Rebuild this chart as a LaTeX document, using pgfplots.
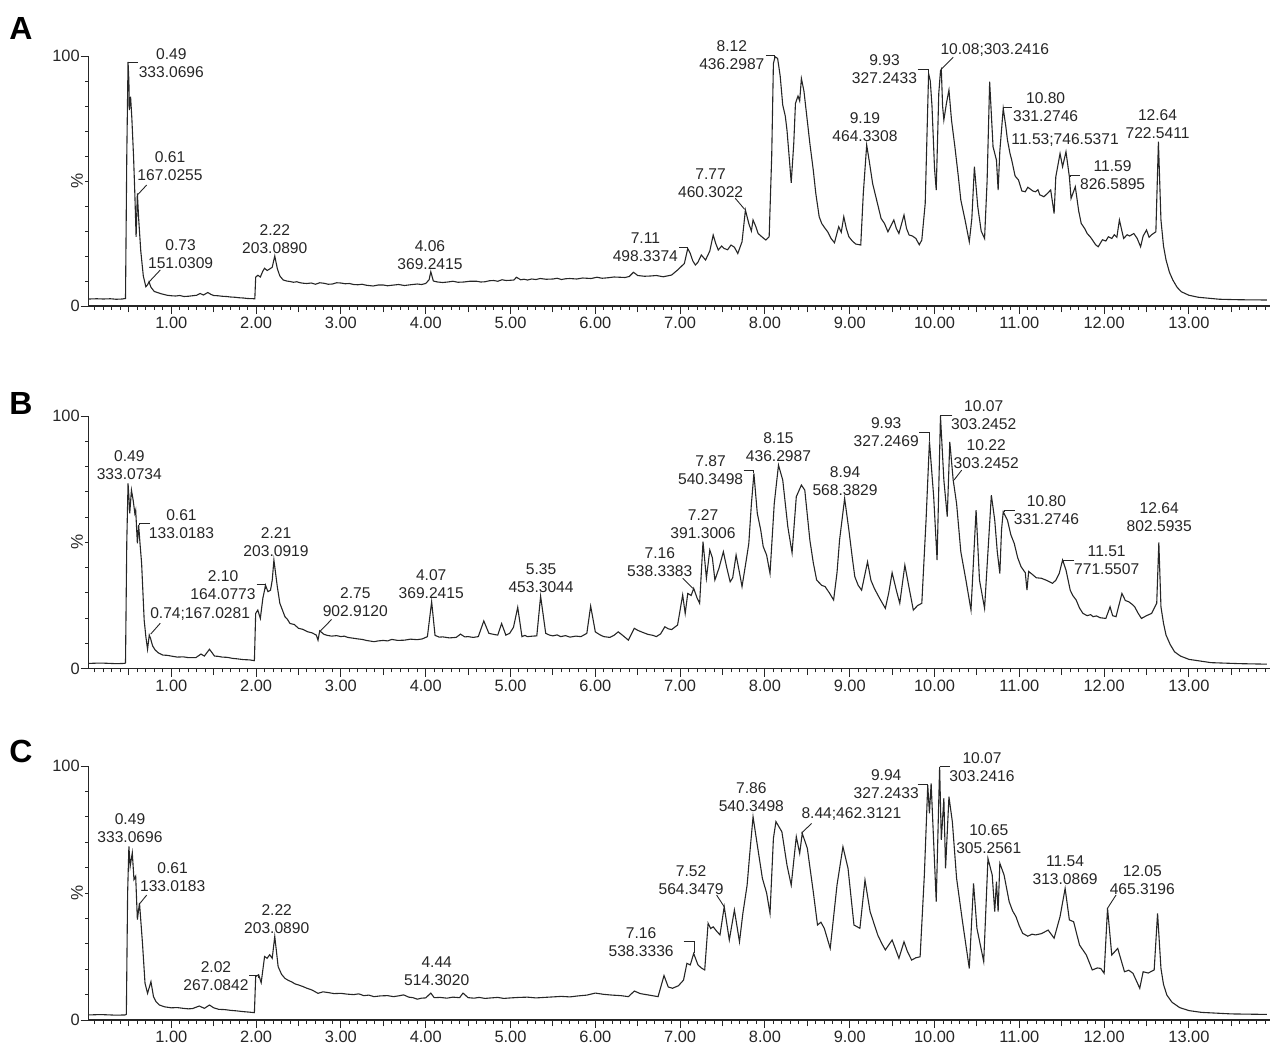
\documentclass[border=0pt]{standalone}
\usepackage{pgfplots}
\pgfplotsset{compat=1.18}
\usepackage{fontspec}
\setmainfont{Liberation Sans}
\definecolor{ink}{gray}{0.15}
\pgfplotsset{
 chrom/.style={
  scale only axis, width=590.4pt, xmin=0.026, xmax=13.95, ymin=0, ymax=100,
  axis x line*=bottom, axis y line*=left,
  axis line style={ink, line width=0.6pt, -},
  xtick={1,2,3,4,5,6,7,8,9,10,11,12,13},
  xticklabels={1.00,2.00,3.00,4.00,5.00,6.00,7.00,8.00,9.00,10.00,11.00,12.00,13.00},
  minor xtick={0.1,0.2,...,13.92},
  extra x ticks={0.5,1.5,2.5,3.5,4.5,5.5,6.5,7.5,8.5,9.5,10.5,11.5,12.5,13.5},
  extra x tick labels={},
  extra x tick style={major tick length=3.2pt},
  ytick={0,100}, yticklabels={0,100},
  minor ytick={10,20,30,40,50,60,70,80,90},
  tick align=outside, major tick length=4pt, minor tick length=1.8pt,
  tick style={ink, line width=0.5pt},
  ticklabel style={font=\fontsize{8.2}{9}\selectfont, text=ink},
  xticklabel style={yshift=2pt},
  yticklabel style={xshift=3pt},
  clip=false,
 },
 trace/.style={ink, line width=0.55pt, mark=none, sharp plot},
}
\tikzset{
 lab/.style={font=\fontsize{7.8}{9}\selectfont, align=center, inner sep=0pt, text=ink},
 lead/.style={ink, line width=0.45pt},
}
\newcommand{\lab}[3]{\node[lab] at (axis cs:#1,#2) {#3};}
\newcommand{\pct}{\node[rotate=90, font=\fontsize{8.5}{9}\selectfont, text=ink] at ([xshift=-5.85pt]rel axis cs:0,0.5) {\%};}

\begin{document}
\begin{tikzpicture}
\path[use as bounding box] (0,0) rectangle (635pt,-522.5pt);
\node[font=\bfseries\fontsize{16}{16}\selectfont] at (10.5pt,-14pt) {A};
\node[font=\bfseries\fontsize{16}{16}\selectfont] at (10.5pt,-201.5pt) {B};
\node[font=\bfseries\fontsize{16}{16}\selectfont] at (10.5pt,-375.5pt) {C};

% ---------------- A ----------------
\begin{axis}[chrom, at={(44.35pt,-153pt)}, anchor=south west, height=125pt]
\addplot[trace] coordinates {
(0.03,2.8) (0.12,2.9) (0.2,2.8) (0.28,2.9) (0.35,2.7) (0.42,2.8) (0.46,3.0) (0.475,60) (0.49,97.6) (0.50,90) (0.505,78.4) (0.52,83.7) (0.535,75) (0.555,59.7) (0.57,45) (0.585,27.7) (0.60,45) (0.615,35) (0.64,22) (0.67,12) (0.70,7.7) (0.72,8.5) (0.737,9.7) (0.76,7.5) (0.8,5.8) (0.87,5.0) (0.95,4.3) (1.0,4.1) (1.05,4.0) (1.1,4.2) (1.15,3.8) (1.2,3.9) (1.25,4.1) (1.3,4.3) (1.34,5.0) (1.38,4.4) (1.43,5.4) (1.47,4.6) (1.5,4.2) (1.55,4.1) (1.6,3.9) (1.65,3.8) (1.7,3.6) (1.75,3.5) (1.8,3.3) (1.85,3.2) (1.9,3.0) (1.985,2.9) (1.995,11.5) (2.02,12.3) (2.05,11.6) (2.08,14) (2.10,15.1) (2.13,14.2) (2.16,14.8) (2.19,15.5) (2.22,20) (2.25,15) (2.28,12) (2.32,10.4) (2.36,10.0) (2.4,9.8) (2.44,9.5) (2.48,9.7) (2.52,9.3) (2.56,9.1) (2.6,9.0) (2.65,9.2) (2.7,8.7) (2.75,9.3) (2.8,9.1) (2.85,8.7) (2.9,8.8) (2.95,9.3) (3.0,9.2) (3.05,8.9) (3.1,9.0) (3.15,8.6) (3.2,8.5) (3.25,8.7) (3.3,8.3) (3.38,8.0) (3.44,8.4) (3.5,8.4) (3.55,8.1) (3.6,8.3) (3.68,8.6) (3.75,8.2) (3.82,8.5) (3.9,8.8) (3.95,8.6) (4.0,9.0) (4.04,10.5) (4.06,13.7) (4.09,10) (4.14,9.6) (4.2,9.4) (4.26,9.6) (4.32,9.9) (4.38,9.5) (4.45,9.6) (4.52,9.9) (4.6,9.9) (4.65,9.6) (4.7,9.7) (4.75,10.1) (4.8,10.2) (4.85,9.9) (4.9,10.5) (4.95,10.2) (5.0,10.3) (5.04,10.4) (5.07,11.5) (5.12,10.5) (5.16,10.7) (5.2,10.4) (5.25,10.8) (5.3,10.6) (5.35,11.0) (5.42,10.7) (5.5,10.8) (5.55,11.1) (5.6,10.6) (5.65,10.9) (5.7,11.0) (5.78,10.8) (5.85,11.2) (5.95,11.0) (6.02,11.5) (6.08,11.1) (6.15,11.3) (6.22,11.6) (6.29,11.5) (6.35,11.4) (6.4,11.8) (6.45,13.5) (6.5,12.2) (6.58,11.9) (6.65,12.0) (6.72,12.2) (6.8,11.7) (6.86,12.1) (6.9,12.4) (6.97,14.4) (7.05,17) (7.09,23) (7.12,21) (7.15,18) (7.18,16.4) (7.21,17.5) (7.25,20.4) (7.30,18.4) (7.35,22) (7.39,28.4) (7.42,25) (7.45,22.4) (7.49,24) (7.52,23) (7.56,22.5) (7.6,24.4) (7.64,23.5) (7.68,21) (7.73,25.7) (7.77,38.4) (7.81,33) (7.84,30) (7.86,34.4) (7.89,32) (7.92,29) (7.97,27.5) (8.01,26.4) (8.05,27.7) (8.08,60) (8.10,97) (8.12,99.7) (8.15,99) (8.18,92) (8.21,80.4) (8.24,76) (8.26,70.4) (8.29,58) (8.31,49.3) (8.34,65) (8.36,81) (8.39,84) (8.41,82) (8.43,91) (8.46,86) (8.49,77) (8.53,65) (8.57,54.4) (8.6,45) (8.64,35.7) (8.67,33) (8.70,31.5) (8.74,29.7) (8.78,27) (8.82,25.3) (8.87,31.7) (8.90,29.5) (8.93,35.7) (8.96,31) (8.99,27.7) (9.03,26) (9.07,24.8) (9.13,24.4) (9.16,45) (9.20,64.4) (9.23,58) (9.27,49) (9.32,42) (9.37,35) (9.41,33) (9.45,29.7) (9.52,34.4) (9.55,31) (9.58,29) (9.64,36.4) (9.67,31) (9.70,28.4) (9.74,28) (9.78,27) (9.82,24.5) (9.85,26.4) (9.89,41) (9.93,93) (9.95,90) (9.97,80) (10.0,55) (10.02,46.4) (10.05,85) (10.07,94) (10.08,94.7) (10.095,80) (10.11,74.4) (10.14,81) (10.17,86.4) (10.2,74.4) (10.24,63.7) (10.28,52) (10.31,42.4) (10.36,34.4) (10.41,25.7) (10.44,35) (10.47,55.7) (10.51,39.7) (10.55,30) (10.59,27) (10.62,50) (10.65,89.7) (10.69,63.7) (10.73,58.4) (10.75,46.4) (10.77,62) (10.79,70.4) (10.81,79) (10.84,72) (10.86,66.4) (10.89,61) (10.91,58.4) (10.95,52) (10.99,50.4) (11.03,46) (11.07,45.7) (11.1,47.5) (11.12,47) (11.16,46) (11.19,45.7) (11.22,46.5) (11.24,44.5) (11.29,43.7) (11.33,45) (11.37,46.4) (11.41,37) (11.43,51.7) (11.48,61) (11.51,55.7) (11.55,61.7) (11.59,51.7) (11.61,43) (11.66,47.7) (11.70,38) (11.73,33) (11.77,31) (11.8,29) (11.84,27.5) (11.87,26) (11.9,24.5) (11.93,23.7) (11.98,26.5) (12.02,26) (12.05,27.7) (12.09,27) (12.12,28.5) (12.15,27.5) (12.18,34.4) (12.23,27) (12.27,28.5) (12.3,28) (12.35,29) (12.39,27) (12.43,23.7) (12.46,28) (12.5,30.4) (12.53,27.5) (12.56,28.5) (12.61,29.7) (12.64,65.7) (12.67,34.4) (12.7,24) (12.73,18.4) (12.77,13.5) (12.81,10.4) (12.86,7.5) (12.91,5.7) (13.0,4.3) (13.11,3.5) (13.36,2.7) (13.6,2.5) (13.92,2.4)
};
\pct
\lab{1.00}{97.2}{0.49\\333.0696}
\draw[lead] (axis cs:0.61,97.6) -- (axis cs:0.49,97.6);
\lab{0.985}{55.8}{0.61\\167.0255}
\draw[lead] (axis cs:0.71,48.4) -- (axis cs:0.60,44.4);
\lab{1.11}{20.8}{0.73\\151.0309}
\draw[lead] (axis cs:0.87,14.4) -- (axis cs:0.74,9.7);
\lab{2.22}{26.8}{2.22\\203.0890}
\lab{4.05}{20.4}{4.06\\369.2415}
\lab{6.59}{23.4}{7.11\\498.3374}
\draw[lead] (axis cs:6.99,23.5) -| (axis cs:7.09,22.5);
\lab{7.36}{49.3}{7.77\\460.3022}
\draw[lead] (axis cs:7.65,43.1) -- (axis cs:7.76,38.7);
\lab{7.61}{100.4}{8.12\\436.2987}
\draw[lead] (axis cs:8.01,100.4) -| (axis cs:8.11,99.2);
\lab{9.18}{71.7}{9.19\\464.3308}
\lab{9.41}{94.8}{9.93\\327.2433}
\draw[lead] (axis cs:9.80,94.8) -| (axis cs:9.93,93);
\lab{10.71}{102.4}{10.08;303.2416}
\draw[lead] (axis cs:10.22,99.5) -- (axis cs:10.08,94.7);
\lab{11.31}{79.6}{10.80\\331.2746}
\draw[lead] (axis cs:10.91,79.6) -| (axis cs:10.81,79);
\lab{11.54}{66.4}{11.53;746.5371}
\lab{12.10}{52.3}{11.59\\826.5895}
\draw[lead] (axis cs:11.71,52.3) -| (axis cs:11.60,51.7);
\lab{12.63}{72.9}{12.64\\722.5411}
\end{axis}

% ---------------- B ----------------
\begin{axis}[chrom, at={(44.35pt,-334.35pt)}, anchor=south west, height=126.3pt]
\addplot[trace] coordinates {
(0.03,2.1) (0.12,2.2) (0.2,2.2) (0.28,2.1) (0.35,2.0) (0.45,2.1) (0.46,2.3) (0.475,50) (0.49,73.4) (0.50,68) (0.51,61.5) (0.53,70.7) (0.55,66.8) (0.57,61.5) (0.58,62.8) (0.60,49.6) (0.615,56.9) (0.63,50) (0.65,41.7) (0.68,19.3) (0.70,12.7) (0.72,7.7) (0.74,13.3) (0.755,12) (0.78,9) (0.81,7.4) (0.85,6.2) (0.9,5.4) (0.95,5.3) (1.0,5.0) (1.07,4.6) (1.14,4.7) (1.2,4.4) (1.29,4.4) (1.35,5.8) (1.39,5.0) (1.45,7.7) (1.51,5.0) (1.55,4.9) (1.6,4.6) (1.66,4.5) (1.72,4.1) (1.78,3.9) (1.85,3.6) (1.92,3.5) (1.98,3.2) (1.995,21.9) (2.02,23.2) (2.05,19.9) (2.08,28) (2.10,31.1) (2.11,33.1) (2.14,30.5) (2.17,31.1) (2.19,35) (2.21,43) (2.25,32.5) (2.28,25.9) (2.34,20.6) (2.37,19.5) (2.40,17.9) (2.45,17.5) (2.50,16) (2.55,15.6) (2.61,14.6) (2.66,14.2) (2.71,13.3) (2.73,11.3) (2.75,15) (2.8,13.6) (2.84,13.2) (2.89,12.9) (2.95,13.1) (3.0,12.7) (3.04,12.9) (3.08,12.4) (3.14,12.1) (3.2,11.8) (3.25,11.6) (3.3,11.2) (3.39,10.7) (3.44,11.0) (3.5,11.2) (3.55,11.0) (3.6,11.6) (3.67,11.2) (3.75,11.3) (3.82,11.7) (3.9,11.5) (3.96,11.8) (4.02,12.7) (4.07,26.5) (4.11,13.2) (4.16,12.5) (4.2,12.6) (4.28,12.2) (4.36,12.4) (4.41,13.7) (4.46,12.6) (4.5,12.7) (4.56,12.4) (4.62,12.7) (4.685,18.9) (4.745,14) (4.8,13.6) (4.85,13.3) (4.895,17.9) (4.945,13.3) (4.99,14) (5.035,16.4) (5.085,24.3) (5.135,12.7) (5.17,13.2) (5.2,12.7) (5.26,12.9) (5.31,13) (5.355,28.7) (5.415,14) (5.46,13.3) (5.5,13) (5.55,13.4) (5.59,12.7) (5.65,13.1) (5.7,12.5) (5.77,12.9) (5.83,12.7) (5.9,14) (5.945,24.8) (6.0,14.6) (6.05,13.5) (6.1,12.7) (6.17,12.4) (6.22,13.2) (6.27,14.6) (6.33,13) (6.39,11.3) (6.46,16) (6.5,15.2) (6.55,14.5) (6.62,13.6) (6.68,13.2) (6.72,12.7) (6.77,13.8) (6.82,16.6) (6.86,15.8) (6.9,15.5) (6.97,17.3) (7.03,29.2) (7.06,21.9) (7.09,29.8) (7.13,29) (7.16,31.8) (7.2,28) (7.23,25.9) (7.27,50.3) (7.31,35.8) (7.35,47) (7.38,44) (7.41,35.1) (7.46,40) (7.51,46.3) (7.55,40) (7.59,34.4) (7.62,36) (7.66,45) (7.7,38) (7.73,32.5) (7.78,43) (7.81,49.6) (7.84,65) (7.87,77.3) (7.91,61.5) (7.95,55) (7.98,48.3) (8.02,45) (8.06,37.7) (8.11,65.4) (8.16,80.6) (8.21,74.7) (8.27,56.2) (8.32,45.9) (8.37,68.1) (8.43,72.7) (8.47,70.7) (8.53,50.9) (8.57,42) (8.61,35.1) (8.67,33) (8.71,32.5) (8.76,30) (8.81,27.2) (8.85,38) (8.88,50.9) (8.94,67.4) (8.99,54.9) (9.03,44) (9.06,36.4) (9.1,33) (9.14,31.1) (9.21,42.3) (9.25,35) (9.29,31.8) (9.35,28) (9.42,23.9) (9.46,30) (9.5,38) (9.55,31) (9.59,25.9) (9.65,41) (9.7,32) (9.75,23.2) (9.8,25) (9.85,25.9) (9.90,58.8) (9.94,90) (9.99,68.1) (10.03,43) (10.07,100) (10.11,74.7) (10.15,60.2) (10.18,89.8) (10.22,74.7) (10.26,65.4) (10.31,46.3) (10.37,35.1) (10.43,23.2) (10.49,62.8) (10.53,35.1) (10.59,23.9) (10.67,68.7) (10.71,58.8) (10.74,46.3) (10.77,37.7) (10.79,55) (10.81,62.1) (10.86,58.8) (10.9,53) (10.94,49.6) (10.98,44) (11.02,40.4) (11.07,38) (11.09,31.1) (11.11,38.5) (11.14,37.7) (11.2,36) (11.26,35.8) (11.32,35) (11.39,33.8) (11.43,35) (11.47,37.7) (11.51,43) (11.55,39.1) (11.60,31.1) (11.63,29) (11.67,27.2) (11.71,24) (11.75,21.9) (11.8,21) (11.84,21.4) (11.87,20.6) (11.91,20.9) (11.95,20.2) (12.02,19.9) (12.07,24.5) (12.1,21) (12.14,20.6) (12.21,29.8) (12.25,27) (12.29,26.5) (12.33,25.5) (12.36,24.5) (12.4,22) (12.44,19.9) (12.5,21) (12.56,21.9) (12.62,25.9) (12.645,50) (12.67,24.5) (12.7,18) (12.73,13.3) (12.78,9.5) (12.83,6.7) (12.9,5.0) (13.0,3.7) (13.26,2.4) (13.6,2.0) (13.92,1.8)
};
\pct
\lab{0.505}{80.6}{0.49\\333.0734}
\lab{1.12}{57.4}{0.61\\133.0183}
\draw[lead] (axis cs:0.75,57.4) -| (axis cs:0.62,56.9);
\lab{1.34}{21.5}{0.74;167.0281}
\draw[lead] (axis cs:0.87,18) -- (axis cs:0.757,13.7);
\lab{1.61}{33.1}{2.10\\164.0773}
\draw[lead] (axis cs:2.007,33.4) -| (axis cs:2.11,31.5);
\lab{2.235}{50.1}{2.21\\203.0919}
\lab{3.17}{26.5}{2.75\\902.9120}
\draw[lead] (axis cs:2.89,19.5) -- (axis cs:2.76,15);
\lab{4.065}{33.6}{4.07\\369.2415}
\lab{5.36}{35.9}{5.35\\453.3044}
\lab{6.76}{42.2}{7.16\\538.3383}
\draw[lead] (axis cs:7.03,35.8) -- (axis cs:7.15,31.8);
\lab{7.27}{57.3}{7.27\\391.3006}
\lab{7.36}{78.5}{7.87\\540.3498}
\draw[lead] (axis cs:7.75,78.4) -| (axis cs:7.87,77.3);
\lab{8.16}{87.7}{8.15\\436.2987}
\lab{8.945}{74.3}{8.94\\568.3829}
\lab{9.43}{93.6}{9.93\\327.2469}
\draw[lead] (axis cs:9.82,93.7) -| (axis cs:9.94,90);
\lab{10.58}{100.4}{10.07\\303.2452}
\draw[lead] (axis cs:10.21,100.4) -| (axis cs:10.07,99.6);
\lab{10.61}{85}{10.22\\303.2452}
\draw[lead] (axis cs:10.32,78.6) -- (axis cs:10.23,74.7);
\lab{11.32}{62.8}{10.80\\331.2746}
\draw[lead] (axis cs:10.945,62.8) -| (axis cs:10.82,62.1);
\lab{12.03}{43}{11.51\\771.5507}
\draw[lead] (axis cs:11.65,43) -| (axis cs:11.52,42.3);
\lab{12.65}{60}{12.64\\802.5935}
\end{axis}

% ---------------- C ----------------
\begin{axis}[chrom, at={(44.35pt,-510pt)}, anchor=south west, height=127pt]
\addplot[trace] coordinates {
(0.03,2.0) (0.12,2.1) (0.2,2.1) (0.28,2.0) (0.35,1.9) (0.46,2.0) (0.47,2.3) (0.485,50) (0.50,68.4) (0.515,60.5) (0.54,65.8) (0.56,55.3) (0.58,56.6) (0.60,39.5) (0.625,46.1) (0.66,30.3) (0.69,14.5) (0.72,10.5) (0.76,15.1) (0.79,9.2) (0.82,7.2) (0.86,5.9) (0.92,5.2) (1.0,4.8) (1.07,4.9) (1.14,4.6) (1.2,4.4) (1.25,4.5) (1.33,5.5) (1.39,4.6) (1.45,5.9) (1.5,4.8) (1.56,4.2) (1.63,4.1) (1.7,3.8) (1.77,3.6) (1.85,3.3) (1.92,3.1) (1.98,2.9) (1.995,17.1) (2.03,17.8) (2.06,14.7) (2.10,25) (2.13,24.3) (2.16,25.7) (2.19,24.3) (2.22,32.9) (2.26,21) (2.3,18) (2.34,16.4) (2.38,15.6) (2.42,15) (2.46,14.2) (2.5,13.8) (2.55,13.2) (2.6,12.5) (2.66,11.8) (2.73,10.5) (2.79,11.1) (2.85,10.8) (2.92,10.4) (3.0,10.5) (3.07,10.2) (3.15,10) (3.21,10.3) (3.27,9.6) (3.33,9.8) (3.39,9.2) (3.47,9.5) (3.55,9.6) (3.62,9.2) (3.68,9.5) (3.74,9.9) (3.8,9.0) (3.85,8.8) (3.9,8.2) (3.95,8.6) (4.0,8.7) (4.06,10.6) (4.1,8.8) (4.17,8.9) (4.25,8.6) (4.32,9.0) (4.4,8.8) (4.44,10.6) (4.5,8.8) (4.57,8.6) (4.63,8.9) (4.7,8.5) (4.77,8.7) (4.85,8.9) (4.92,8.5) (5.0,8.7) (5.1,8.9) (5.2,9.0) (5.3,8.7) (5.4,8.9) (5.5,9.1) (5.6,9.3) (5.7,9.1) (5.8,9.5) (5.9,9.8) (6.0,10.6) (6.1,10.1) (6.2,9.8) (6.3,9.6) (6.39,9.2) (6.46,11.4) (6.53,10.4) (6.6,10) (6.67,9.6) (6.74,9.2) (6.81,17.5) (6.86,13) (6.91,12.5) (6.98,13.5) (7.04,15.7) (7.08,22.3) (7.12,21.7) (7.16,26.2) (7.21,21.7) (7.25,20.5) (7.29,19.7) (7.33,38.1) (7.36,36) (7.39,36.7) (7.43,35) (7.47,33.5) (7.52,44.6) (7.58,31.5) (7.64,43.3) (7.70,30.8) (7.74,42) (7.79,53.1) (7.82,65) (7.86,80) (7.91,68.9) (7.97,55.8) (8.02,50) (8.06,42) (8.10,71.5) (8.13,78.1) (8.20,74.1) (8.26,61) (8.31,53.1) (8.37,72.2) (8.41,65.6) (8.44,73.5) (8.50,67.6) (8.57,50.5) (8.62,37.4) (8.66,38.5) (8.70,36.1) (8.77,28.2) (8.85,53.1) (8.92,68.2) (8.98,59.7) (9.05,37.4) (9.12,36.1) (9.18,55.1) (9.24,42.7) (9.33,33.5) (9.38,30) (9.42,27.6) (9.50,31.5) (9.58,24.3) (9.64,30.8) (9.68,27) (9.73,23.6) (9.78,24.5) (9.83,24.9) (9.88,57.1) (9.92,92.5) (9.94,81.4) (9.96,93.2) (10.02,46.6) (10.06,99.7) (10.08,70.9) (10.11,87.3) (10.13,59.7) (10.17,87.9) (10.21,78.1) (10.26,55.8) (10.33,38.7) (10.41,20.3) (10.46,53.8) (10.50,36.1) (10.58,23) (10.63,63.6) (10.68,57.1) (10.71,42.7) (10.73,54.5) (10.75,42.7) (10.77,61.7) (10.82,57.1) (10.88,46.6) (10.92,43) (10.96,40.7) (11.0,37) (11.04,34.1) (11.1,33) (11.15,33.8) (11.19,33.5) (11.26,34) (11.34,35.4) (11.41,32.2) (11.48,40.7) (11.54,51.8) (11.59,39.4) (11.64,38.7) (11.71,29.5) (11.79,25.6) (11.86,19.7) (11.92,20.5) (11.96,20.3) (12.0,18.4) (12.04,44) (12.09,25.6) (12.16,28.2) (12.24,19) (12.29,19.6) (12.34,18.4) (12.42,12.5) (12.46,19) (12.52,18.5) (12.59,19.7) (12.63,42) (12.67,20.3) (12.7,14) (12.74,9.8) (12.8,7) (12.89,4.9) (13.0,3.7) (13.15,3.0) (13.5,2.4) (13.92,2.2)
};
\pct
\lab{0.513}{75.5}{0.49\\333.0696}
\lab{1.016}{56.4}{0.61\\133.0183}
\draw[lead] (axis cs:0.71,49.2) -- (axis cs:0.63,45.9);
\lab{1.527}{17.3}{2.02\\267.0842}
\draw[lead] (axis cs:1.92,17.7) -| (axis cs:2.025,16.5);
\lab{2.243}{39.9}{2.22\\203.0890}
\lab{4.13}{19.3}{4.44\\514.3020}
\lab{6.54}{30.6}{7.16\\538.3336}
\draw[lead] (axis cs:7.04,30.8) -| (axis cs:7.17,26.2);
\lab{7.13}{55.2}{7.52\\564.3479}
\draw[lead] (axis cs:7.43,49.2) -- (axis cs:7.52,44.6);
\lab{7.84}{87.7}{7.86\\540.3498}
\lab{9.02}{81.1}{8.44;462.3121}
\draw[lead] (axis cs:8.55,77.4) -- (axis cs:8.43,73.5);
\lab{9.43}{92.8}{9.94\\327.2433}
\draw[lead] (axis cs:9.80,92.9) -| (axis cs:9.92,92.5);
\lab{10.56}{99.5}{10.07\\303.2416}
\draw[lead] (axis cs:10.18,99.7) -| (axis cs:10.06,99.7);
\lab{10.64}{71.3}{10.65\\305.2561}
\lab{11.54}{58.9}{11.54\\313.0869}
\lab{12.45}{55.2}{12.05\\465.3196}
\draw[lead] (axis cs:12.14,49.2) -- (axis cs:12.04,44);
\end{axis}
\end{tikzpicture}
\end{document}
